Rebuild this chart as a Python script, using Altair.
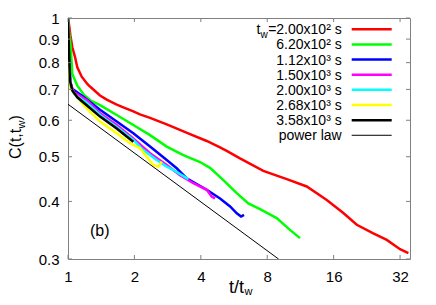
import altair as alt
import pandas as pd

# ---- data (t/t_w , C(t,t_w)) ----
series_names = ["2.00x10² s", "6.20x10² s", "1.12x10³ s", "1.50x10³ s",
                "2.00x10³ s", "2.68x10³ s", "3.58x10³ s"]
series_colors = ["#ff0000", "#00ff00", "#0000ff", "#ff00ff", "#00ffff", "#ffff00", "#000000"]

red_x = [1.000, 1.010, 1.026, 1.046, 1.076, 1.102, 1.154, 1.223, 1.258, 1.397, 1.498, 1.663,
         1.781, 1.977, 2.119, 2.354, 2.802, 3.002, 3.573, 4.254, 4.888, 5.24, 6.02, 7.68,
         9.81, 12.08, 14.89, 17.65, 20.37, 24.2, 27.86, 32.0, 34.9]
red_y = [1.000, 0.970, 0.914, 0.864, 0.823, 0.782, 0.746, 0.719, 0.710, 0.679, 0.665, 0.649,
         0.640, 0.627, 0.618, 0.607, 0.588, 0.580, 0.560, 0.541, 0.524, 0.515, 0.496, 0.466,
         0.447, 0.431, 0.403, 0.378, 0.356, 0.341, 0.330, 0.315, 0.309]

green_x = [1.000, 1.010, 1.029, 1.046, 1.102, 1.182, 1.267, 1.397, 1.663, 1.977, 2.354, 2.802,
           3.332, 3.967, 4.403, 5.06, 5.82, 6.57, 7.42, 8.83, 10.14, 11.26]
green_y = [1.000, 0.939, 0.864, 0.756, 0.713, 0.681, 0.662, 0.647, 0.616, 0.586, 0.557, 0.526,
           0.504, 0.487, 0.473, 0.445, 0.417, 0.396, 0.385, 0.368, 0.347, 0.333]

blue_x = [1.000, 1.010, 1.026, 1.046, 1.182, 1.397, 1.663, 1.977, 2.354, 2.802, 3.110, 3.452,
          4.254, 4.888, 5.43, 5.82, 6.09, 6.28]
blue_y = [1.000, 0.811, 0.726, 0.702, 0.673, 0.632, 0.596, 0.562, 0.526, 0.492, 0.472, 0.449,
          0.424, 0.406, 0.390, 0.377, 0.371, 0.374]

magenta_x = [1.000, 1.010, 1.026, 1.065, 1.223, 1.397, 1.663, 1.977, 2.354, 2.802, 3.219, 3.699,
             4.254, 4.482, 4.639]
magenta_y = [1.000, 0.791, 0.719, 0.690, 0.662, 0.621, 0.586, 0.548, 0.509, 0.480, 0.456, 0.438,
             0.424, 0.410, 0.406]

cyan_x = [1.000, 1.010, 1.026, 1.065, 1.219, 1.397, 1.663, 1.977, 2.195, 2.524, 2.802, 3.002, 3.511]
cyan_y = [1.000, 0.771, 0.712, 0.684, 0.654, 0.616, 0.580, 0.544, 0.517, 0.492, 0.476, 0.468, 0.447]

yellow_x = [1.000, 1.010, 1.029, 1.182, 1.397, 1.663, 1.910, 2.119, 2.274, 2.437, 2.567, 2.660]
yellow_y = [1.000, 0.764, 0.702, 0.645, 0.596, 0.562, 0.535, 0.522, 0.500, 0.480, 0.476, 0.488]

black_x = [1.000, 1.010, 1.021, 1.046, 1.102, 1.223, 1.397, 1.663, 1.845, 1.977]
black_y = [1.000, 0.852, 0.731, 0.696, 0.673, 0.645, 0.611, 0.576, 0.553, 0.539]

power_x = [1.0, 9.0]
power_y = [0.65, 0.30]

x_ticks = [1, 2, 4, 8, 16, 32]
y_ticks = [0.3, 0.4, 0.5, 0.6, 0.7, 0.8, 0.9, 1.0]

all_x = [red_x, green_x, blue_x, magenta_x, cyan_x, yellow_x, black_x]
all_y = [red_y, green_y, blue_y, magenta_y, cyan_y, yellow_y, black_y]

# ---- styling ----
W, H = 342, 241
FONT = "Liberation Sans"
FS = 15
LFS = 14
FRAME = "#808080"
LW = 2.5

xscale = alt.Scale(type="log", base=2, domain=[1, 35.5], nice=False)
yscale = alt.Scale(type="log", base=10, domain=[0.3, 1.0], nice=False)
xaxis = alt.Axis(values=x_ticks, format="~g", title=None, ticks=False, domain=False, grid=False,
                 labelFontSize=FS, labelFont=FONT, labelColor="black", labelPadding=10,
                 labelFlush=False, labelOverlap=False)
yaxis = alt.Axis(values=y_ticks, format="~g", title=None, ticks=False, domain=False, grid=False,
                 labelFontSize=FS, labelFont=FONT, labelColor="black", labelPadding=9,
                 labelOverlap=False)


def X(f):
    return alt.X(f, type="quantitative", scale=xscale, axis=xaxis)


def Y(f):
    return alt.Y(f, type="quantitative", scale=yscale, axis=yaxis)


layers = []

# series lines (drawn in legend order, later on top)
for name, xs, ys, c in zip(series_names, all_x, all_y, series_colors):
    df = pd.DataFrame({"t": xs, "C": ys, "i": list(range(len(xs))), "s": [name] * len(xs)})
    layers.append(
        alt.Chart(df).mark_line(color=c, strokeWidth=LW, clip=True)
        .encode(x=X("t"), y=Y("C"), order=alt.Order("i:Q"))
    )

pdf = pd.DataFrame({"t": power_x, "C": power_y, "i": [0, 1]})
layers.append(
    alt.Chart(pdf).mark_line(color="black", strokeWidth=1, clip=True)
    .encode(x=X("t"), y=Y("C"), order=alt.Order("i:Q"))
)

# inward ticks on all four sides
xt = pd.DataFrame({"v": x_ticks})
yt = pd.DataFrame({"v": y_ticks})
TL = 4
layers.append(alt.Chart(xt).mark_rule(color=FRAME, strokeWidth=1)
              .encode(x=X("v"), y=alt.value(H), y2=alt.value(H - TL)))
layers.append(alt.Chart(xt).mark_rule(color=FRAME, strokeWidth=1)
              .encode(x=X("v"), y=alt.value(0), y2=alt.value(TL)))
layers.append(alt.Chart(yt).mark_rule(color=FRAME, strokeWidth=1)
              .encode(y=Y("v"), x=alt.value(0), x2=alt.value(TL)))
layers.append(alt.Chart(yt).mark_rule(color=FRAME, strokeWidth=1)
              .encode(y=Y("v"), x=alt.value(W), x2=alt.value(W - TL)))

one = pd.DataFrame({"k": [0]})


def text(s, x, y, size=FS, align="left", baseline="alphabetic", angle=None):
    kw = dict(font=FONT, fontSize=size, align=align, baseline=baseline, color="black")
    if angle is not None:
        kw["angle"] = angle
    return alt.Chart(one).mark_text(**kw).encode(
        x=alt.value(x), y=alt.value(y), text=alt.value(s))


# legend (inside, top right)
LEG_TEXT_X = 273.7
LEG_L0, LEG_L1 = 283.7, 323.7
LEG_Y0, LEG_DY = 11.3, 15.14
leg_labels = ["=" + series_names[0]] + series_names[1:] + ["power law"]
leg_colors = series_colors + ["black"]
leg_widths = [LW] * 7 + [1]
for i, (lab, c, w) in enumerate(zip(leg_labels, leg_colors, leg_widths)):
    yy = LEG_Y0 + i * LEG_DY
    layers.append(text(lab, LEG_TEXT_X, yy + 5, size=LFS, align="right"))
    layers.append(alt.Chart(one).mark_rule(color=c, strokeWidth=w)
                  .encode(x=alt.value(LEG_L0), x2=alt.value(LEG_L1), y=alt.value(yy)))
layers.append(text("t", 188.5, LEG_Y0 + 5, size=LFS, align="left"))
layers.append(text("w", 192.6, LEG_Y0 + 8.5, size=10, align="left"))

# panel label
layers.append(text("(b)", 22, 218, size=16))

# x title  t/t_w
layers.append(text("t/t", 161, 275, size=18))
layers.append(text("w", 176.5, 276.5, size=11))

# y title  C(t,t_w)  rotated
layers.append(text("C(t,t", -47, 141, size=16, angle=270))
layers.append(text("w", -43, 110.5, size=11, angle=270))
layers.append(text(")", -47, 102.5, size=16, angle=270))

chart = alt.layer(*layers).properties(
    width=W, height=H,
    padding={"left": 60, "top": 10, "right": 10, "bottom": 38},
    autosize=alt.AutoSizeParams(type="none"),
).configure_view(stroke=FRAME, strokeWidth=1)

chart.save("out.html", embed_options={"renderer": "svg", "actions": False})
